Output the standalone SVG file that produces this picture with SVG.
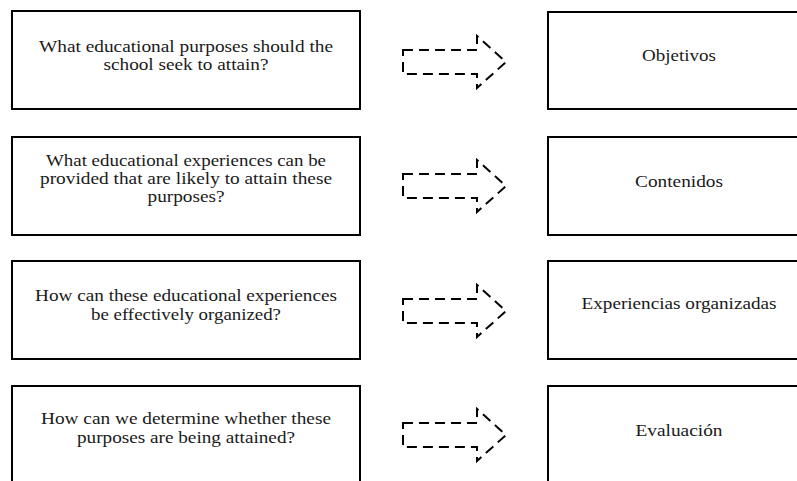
<svg xmlns="http://www.w3.org/2000/svg" width="797" height="481" viewBox="0 0 797 481">
<style>
.box{fill:#fff;stroke:#000;stroke-width:2}
.arr{fill:none;stroke:#000;stroke-width:2;stroke-dasharray:10 6}
text{font-family:"Liberation Serif","Times New Roman",serif;font-size:17px;fill:#1a1a1a;text-anchor:middle}
</style>
<defs>
<path id="arrow" class="arr" d="M403,50 H477 V36 L506,62 L477,88 V74 H403 Z"/>
</defs>
<rect width="797" height="481" fill="#fff"/>
<g id="q1">
<rect class="box" x="12" y="11" width="348" height="98"/>
<text x="186" y="52" textLength="294" lengthAdjust="spacingAndGlyphs">What educational purposes should the</text>
<text x="186" y="70" textLength="165" lengthAdjust="spacingAndGlyphs">school seek to attain?</text>
</g>
<g id="q2">
<rect class="box" x="12" y="137" width="348" height="98"/>
<text x="186" y="166" textLength="280" lengthAdjust="spacingAndGlyphs">What educational experiences can be</text>
<text x="186" y="184" textLength="292" lengthAdjust="spacingAndGlyphs">provided that are likely to attain these</text>
<text x="186" y="202" textLength="77" lengthAdjust="spacingAndGlyphs">purposes?</text>
</g>
<g id="q3">
<rect class="box" x="12" y="261" width="348" height="98"/>
<text x="186" y="301" textLength="302" lengthAdjust="spacingAndGlyphs">How can these educational experiences</text>
<text x="186" y="320" textLength="190" lengthAdjust="spacingAndGlyphs">be effectively organized?</text>
</g>
<g id="q4">
<rect class="box" x="12" y="386" width="348" height="110"/>
<text x="186" y="424" textLength="290" lengthAdjust="spacingAndGlyphs">How can we determine whether these</text>
<text x="186" y="443" textLength="218" lengthAdjust="spacingAndGlyphs">purposes are being attained?</text>
</g>
<g id="connectors">
<use href="#arrow"/>
<use href="#arrow" transform="translate(0,124)"/>
<use href="#arrow" transform="translate(0,249)"/>
<use href="#arrow" transform="translate(0,373)"/>
</g>
<g id="a1">
<rect class="box" x="548" y="12" width="270" height="97"/>
<text x="679" y="61" textLength="74" lengthAdjust="spacingAndGlyphs">Objetivos</text>
</g>
<g id="a2">
<rect class="box" x="548" y="137" width="270" height="98"/>
<text x="679" y="187" textLength="88" lengthAdjust="spacingAndGlyphs">Contenidos</text>
</g>
<g id="a3">
<rect class="box" x="548" y="261" width="270" height="98"/>
<text x="679" y="309" textLength="195" lengthAdjust="spacingAndGlyphs">Experiencias organizadas</text>
</g>
<g id="a4">
<rect class="box" x="548" y="386" width="270" height="110"/>
<text x="679" y="436" textLength="87" lengthAdjust="spacingAndGlyphs">Evaluación</text>
</g>
</svg>
